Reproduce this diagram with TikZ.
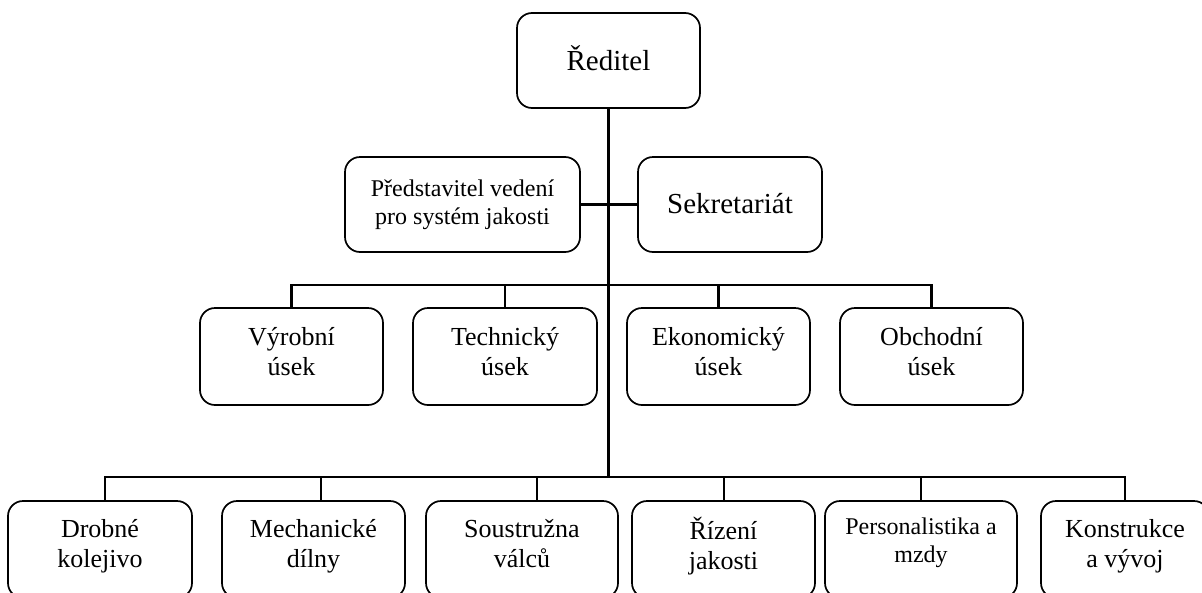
\documentclass[tikz,border=0pt]{standalone}
\usepackage{fontspec}
\setmainfont{Liberation Serif}
\tikzset{
  box/.style={draw, line width=1.7pt, rounded corners=15pt, inner sep=0pt, align=center},
  strutted/.style 2 args={execute at begin node={\rule{0pt}{#1pt}}, execute at end node={\rule[-#2pt]{0pt}{#2pt}}},
  big/.style={font=\fontsize{29}{33}\selectfont},
  med/.style={font=\fontsize{26}{30}\selectfont},
  sml/.style={font=\fontsize{24}{28.5}\selectfont},
  heavy/.style={line width=3pt},
  mid/.style={line width=2.4pt},
  lite/.style={line width=1.4pt}
}
\begin{document}
\begin{tikzpicture}[x=1pt,y=-1pt]
\useasboundingbox (0,0) rectangle (1202,592);
\clip (0,0) rectangle (1202,592);
% top
\node[box, big, minimum width=183pt, minimum height=95pt, strutted={20}{5}] (red) at (608.5,60.5) {Ředitel};
\node[box, sml, minimum width=235pt, minimum height=95pt, strutted={20}{4.5}] (pred) at (462.5,204.5) {Představitel vedení\\pro systém jakosti};
\node[box, big, minimum width=184pt, minimum height=95pt, strutted={21}{4}] (sek) at (730,204.5) {Sekretariát};
% middle
\node[box, med, minimum width=183pt, minimum height=97pt, strutted={18}{11}] (vyr) at (291.5,356.5) {Výrobní\\úsek};
\node[box, med, minimum width=184pt, minimum height=97pt, strutted={18}{11}] (tech) at (505,356.5) {Technický\\úsek};
\node[box, med, minimum width=183pt, minimum height=97pt, strutted={18}{11}] (eko) at (718.5,356.5) {Ekonomický\\úsek};
\node[box, med, minimum width=183pt, minimum height=97pt, strutted={18}{11}] (obch) at (931.5,356.5) {Obchodní\\úsek};
% bottom
\node[box, med, minimum width=184pt, minimum height=97pt, strutted={18}{13}] (drob) at (100,549.5) {Drobné\\kolejivo};
\node[box, med, minimum width=183pt, minimum height=97pt, strutted={18}{13}] (mech) at (313.5,549.5) {Mechanické\\dílny};
\node[box, med, minimum width=192pt, minimum height=97pt, strutted={18}{13}] (sous) at (522,549.5) {Soustružna\\válců};
\node[box, med, minimum width=183pt, minimum height=97pt, strutted={18}{13}] (riz) at (723.5,549.5) {Řízení\\jakosti};
\node[box, font=\fontsize{24}{28}\selectfont, minimum width=192pt, minimum height=97pt, strutted={17}{18}] (pers) at (921,549.5) {Personalistika a\\mzdy};
\node[box, med, minimum width=168pt, minimum height=97pt, strutted={18}{13}] (kon) at (1125,549.5) {Konstrukce\\a vývoj};
% bars
\coordinate (mb) at (608.5,285);
\coordinate (bb) at (608.5,477);
\coordinate (c1) at (105,477);
\coordinate (c2) at (321,477);
\coordinate (c3) at (537,477);
\coordinate (c4) at (724,477);
\coordinate (c5) at (921,477);
\coordinate (c6) at (1125,477);
\draw[heavy] (red.south) -- (bb);
\draw[mid] (pred.east) -- (sek.west);
\draw[mid] (vyr.north) -- (vyr.north |- mb) -- (obch.north |- mb) -- (obch.north);
\draw[mid] (tech.north) -- (tech.north |- mb);
\draw[mid] (eko.north) -- (eko.north |- mb);
\draw[lite] (c1 |- drob.north) -- (c1) -- (bb);
\draw[lite] (c2) -- (c2 |- mech.north);
\draw[lite] (c3) -- (c3 |- sous.north);
\draw[mid] (bb) -- (c6) -- (c6 |- kon.north);
\draw[mid] (c4) -- (c4 |- riz.north);
\draw[mid] (c5) -- (c5 |- pers.north);
\end{tikzpicture}
\end{document}
